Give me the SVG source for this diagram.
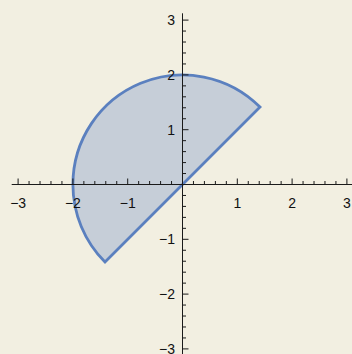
<svg xmlns="http://www.w3.org/2000/svg" width="352" height="354" viewBox="0 0 352 354">
<style>
.axis{stroke:#1a1a1a;stroke-width:1;fill:none}
.lbl{font-family:"Liberation Sans",Arial,sans-serif;font-size:14px;fill:#111}
.xl{text-anchor:middle}
.yl{text-anchor:end}
</style>
<rect width="352" height="354" fill="#f2efe1"/>
<g id="region">
<path d="M182.5,184.5 L260,107 A109.6,109.6 0 0 0 72.9,184.5 A109.6,109.6 0 0 0 105,262 Z" fill="#c6ced8" stroke="#5b80bf" stroke-width="2.8" stroke-linejoin="miter"/>
</g>
<g id="axes" transform="translate(182.5,184.5)">
<path class="axis" d="M-170.8,0H169.5M0,-171.2V169.5"/>
<path class="axis" d="M-164.4,0v-6M-109.6,0v-6M-54.8,0v-6M54.8,0v-6M109.6,0v-6M164.4,0v-6
M-153.44,0v-3.5M-142.48,0v-3.5M-131.52,0v-3.5M-120.56,0v-3.5M-98.64,0v-3.5M-87.68,0v-3.5M-76.72,0v-3.5M-65.76,0v-3.5M-43.84,0v-3.5M-32.88,0v-3.5M-21.92,0v-3.5M-10.96,0v-3.5
M10.96,0v-3.5M21.92,0v-3.5M32.88,0v-3.5M43.84,0v-3.5M65.76,0v-3.5M76.72,0v-3.5M87.68,0v-3.5M98.64,0v-3.5M120.56,0v-3.5M131.52,0v-3.5M142.48,0v-3.5M153.44,0v-3.5"/>
<path class="axis" d="M0,-164.4h6M0,-109.6h6M0,-54.8h6M0,54.8h6M0,109.6h6M0,164.4h6
M0,-153.44h3.5M0,-142.48h3.5M0,-131.52h3.5M0,-120.56h3.5M0,-98.64h3.5M0,-87.68h3.5M0,-76.72h3.5M0,-65.76h3.5M0,-43.84h3.5M0,-32.88h3.5M0,-21.92h3.5M0,-10.96h3.5
M0,10.96h3.5M0,21.92h3.5M0,32.88h3.5M0,43.84h3.5M0,65.76h3.5M0,76.72h3.5M0,87.68h3.5M0,98.64h3.5M0,120.56h3.5M0,131.52h3.5M0,142.48h3.5M0,153.44h3.5"/>
<g class="lbl xl">
<text x="-164.4" y="23.5">−3</text>
<text x="-109.6" y="23.5">−2</text>
<text x="-54.8" y="23.5">−1</text>
<text x="54.8" y="23.5">1</text>
<text x="109.6" y="23.5">2</text>
<text x="164.4" y="23.5">3</text>
</g>
<g class="lbl yl">
<text x="-7.5" y="-159.4">3</text>
<text x="-7.5" y="-104.6">2</text>
<text x="-7.5" y="-49.8">1</text>
<text x="-7.5" y="59.8">−1</text>
<text x="-7.5" y="114.6">−2</text>
<text x="-7.5" y="169.4">−3</text>
</g>
</g>
</svg>
